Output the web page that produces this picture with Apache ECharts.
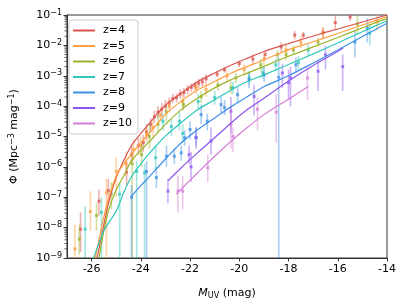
<!DOCTYPE html>
<html><head><meta charset="utf-8">
<script src="https://cdn.jsdelivr.net/npm/echarts@6/dist/echarts.min.js"></script>
<style>html,body{margin:0;padding:0;background:#fff}#c{width:407px;height:305px}</style>
</head><body><div id="c"></div>
<script>
// ---- data (log10 Phi) ----
const redshifts = ['z=4','z=5','z=6','z=7','z=8','z=9','z=10'];
const colors = ['#d9534f','#ff9f40','#9ab52a','#2ec8b8','#3d8fe6','#8b55ee','#d47fd8'];
const xTicks = [-26,-24,-22,-20,-18,-16,-14];
const yTicks = [-9,-8,-7,-6,-5,-4,-3,-2,-1];

// model curves [M_UV, log10 Phi]
const curveZ4 = [[-25.78,-9],[-25.6,-8.3],[-25.4,-7.5],[-25.2,-6.85],[-25,-6.35],[-24.7,-5.8],[-24.4,-5.32],[-24,-4.9],[-23.7,-4.61],[-23.35,-4.27],[-23,-3.97],[-22.4,-3.6],[-21.7,-3.2],[-21,-2.91],[-20.3,-2.64],[-19.7,-2.43],[-19,-2.2],[-18,-1.94],[-17,-1.69],[-16,-1.46],[-15,-1.23],[-14,-1.0]];
const curveZ5 = [[-25.85,-9],[-25.6,-8.0],[-25.4,-7.3],[-25.2,-6.75],[-25,-6.3],[-24.7,-5.9],[-24.4,-5.6],[-24,-5.2],[-23.7,-4.93],[-23.35,-4.6],[-23,-4.27],[-22.4,-3.86],[-21.7,-3.47],[-21,-3.19],[-20.3,-2.9],[-19.7,-2.7],[-19,-2.48],[-18,-2.14],[-17,-1.88],[-16,-1.61],[-15,-1.33],[-14,-1.05]];
const curveZ6 = [[-25.7,-9],[-25.5,-8.1],[-25.3,-7.4],[-25,-6.75],[-24.7,-6.3],[-24.4,-5.82],[-24,-5.45],[-23.7,-5.21],[-23.35,-4.9],[-23,-4.6],[-22.4,-4.14],[-21.7,-3.74],[-21,-3.4],[-20.3,-3.12],[-19.7,-2.92],[-19,-2.69],[-18,-2.36],[-17,-2.05],[-16,-1.74],[-15,-1.42],[-14,-1.11]];
const curveZ7 = [[-25.92,-9],[-25.5,-8.1],[-25,-7.45],[-24.7,-6.85],[-24.4,-6.35],[-24,-5.9],[-23.7,-5.6],[-23.35,-5.28],[-23,-4.98],[-22.4,-4.57],[-21.7,-4.12],[-21,-3.79],[-20.3,-3.45],[-19.7,-3.2],[-19,-2.97],[-18,-2.63],[-17,-2.28],[-16,-1.92],[-15,-1.55],[-14,-1.19]];
const curveZ8 = [[-24.38,-6.96],[-24,-6.62],[-23.7,-6.36],[-23.35,-6.05],[-23,-5.74],[-22.4,-5.24],[-21.7,-4.78],[-21,-4.39],[-20.3,-4.0],[-19.7,-3.7],[-19,-3.36],[-18,-3.0],[-17,-2.58],[-16,-2.15],[-15,-1.71],[-14,-1.27]];
const curveZ9 = [[-22.9,-6.46],[-22.4,-6.06],[-21.7,-5.54],[-21,-5.04],[-20.3,-4.53],[-19.7,-4.13],[-19,-3.74],[-18,-3.17],[-17,-2.66],[-16,-2.2],[-15.78,-2.09]];
const curveZ10 = [[-22.56,-6.9],[-22.1,-6.52],[-21.7,-6.2],[-21,-5.65],[-20.3,-5.13],[-19.7,-4.72],[-19,-4.28],[-18,-3.77],[-17.2,-3.35]];

// observations [M_UV, log10 Phi, lower, upper]
const obsZ4 = [[-26.45,-8.05,-8.8,-7.5],[-25.7,-7.13,-7.6,-6.75],[-25.32,-6.78,-7.2,-6.4],[-24.58,-6.18,-6.6,-5.8],[-24.38,-5.59,-5.9,-5.3],[-24.1,-5.3,-5.6,-5.05],[-23.9,-5.2,-5.5,-4.95],[-23.77,-4.85,-5.1,-4.6],[-23.6,-4.6,-4.85,-4.4],[-23.45,-4.35,-4.55,-4.15],[-23.3,-4.2,-4.4,-4.0],[-23.15,-4.1,-4.3,-3.9],[-23.0,-4.0,-4.2,-3.8],[-22.85,-3.9,-4.05,-3.72],[-22.7,-3.75,-3.9,-3.6],[-22.55,-3.72,-3.88,-3.58],[-22.4,-3.6,-3.75,-3.45],[-22.25,-3.55,-3.7,-3.4],[-22.1,-3.45,-3.6,-3.3],[-21.95,-3.38,-3.52,-3.25],[-21.8,-3.33,-3.48,-3.2],[-21.65,-3.25,-3.4,-3.1],[-21.5,-3.2,-3.35,-3.05],[-21.35,-3.1,-3.25,-2.95],[-20.9,-2.95,-3.05,-2.85],[-20.6,-2.8,-2.9,-2.7],[-20.0,-2.6,-2.72,-2.5],[-19.45,-2.45,-2.6,-2.3],[-18.95,-2.3,-2.42,-2.18],[-18.3,-2.05,-2.2,-1.9],[-17.75,-1.66,-1.8,-1.52],[-17.4,-1.66,-1.78,-1.55],[-16.6,-1.57,-1.75,-1.4],[-16.1,-1.25,-1.5,-0.9],[-15.5,-1.07,-1.2,-0.95]];
const obsZ5 = [[-26.68,-8.7,-9.5,-7.9],[-26.05,-7.47,-8.1,-6.8],[-25.4,-6.85,-9.5,-6.4],[-25.0,-6.15,-7.0,-5.7],[-24.6,-5.9,-6.3,-5.5],[-24.3,-5.43,-5.8,-5.1],[-24.0,-5.3,-5.6,-5.0],[-23.77,-4.93,-5.2,-4.7],[-23.5,-4.7,-5.0,-4.45],[-23.2,-4.3,-4.5,-4.1],[-22.84,-4.0,-4.2,-3.8],[-22.3,-3.85,-4.1,-3.6],[-21.75,-3.39,-3.6,-3.2],[-21.35,-3.46,-3.7,-3.25],[-20.5,-3.0,-3.2,-2.85],[-19.8,-2.8,-3.0,-2.6],[-19.0,-2.45,-2.65,-2.3],[-18.1,-2.15,-2.3,-1.95],[-17.5,-1.9,-2.1,-1.7],[-16.6,-1.6,-1.8,-1.4],[-14.4,-1.23,-1.5,-1.0]];
const obsZ6 = [[-26.5,-8.38,-8.9,-7.9],[-25.8,-7.6,-8.1,-7.2],[-25.2,-6.9,-7.4,-6.5],[-24.35,-5.9,-9.5,-5.5],[-23.97,-5.6,-6.0,-5.25],[-23.65,-5.0,-5.4,-4.6],[-23.3,-4.6,-4.9,-4.3],[-22.96,-4.2,-4.5,-3.95],[-22.27,-3.95,-4.15,-3.75],[-21.55,-3.69,-3.9,-3.5],[-20.87,-3.3,-3.5,-3.1],[-20.34,-3.4,-3.6,-3.2],[-20.14,-3.07,-3.25,-2.9],[-19.13,-2.64,-2.85,-2.45],[-18.45,-2.31,-2.5,-2.15],[-18.1,-2.31,-2.5,-2.15],[-17.8,-2.15,-2.3,-2.0],[-16.8,-1.89,-2.05,-1.75],[-15.2,-1.3,-1.65,-0.9]];
const obsZ7 = [[-26.26,-8.05,-9.5,-7.3],[-25.6,-7.5,-9.5,-7.0],[-24.86,-6.9,-9.5,-6.5],[-24.17,-6.15,-9.5,-5.8],[-23.85,-6.2,-9.5,-5.9],[-23.4,-5.7,-6.1,-5.3],[-23.1,-4.5,-4.8,-4.25],[-22.76,-4.67,-5.0,-4.4],[-22.43,-4.5,-4.8,-4.2],[-22.3,-4.9,-5.2,-4.6],[-21.67,-3.85,-4.1,-3.6],[-21.0,-3.72,-3.95,-3.5],[-20.26,-3.39,-3.6,-3.2],[-19.6,-3.07,-3.3,-2.85],[-19.05,-2.9,-3.1,-2.7],[-18.52,-2.64,-2.85,-2.45],[-17.6,-2.57,-2.8,-2.35],[-17.2,-2.15,-2.35,-1.95],[-14.7,-1.6,-2.0,-1.3]];
const obsZ8 = [[-24.38,-7.0,-9.5,-6.6],[-23.77,-6.15,-9.5,-5.8],[-23.37,-6.35,-6.7,-6.0],[-22.96,-5.65,-6.0,-5.3],[-22.64,-5.65,-5.9,-5.4],[-22.36,-5.54,-5.8,-5.3],[-22.22,-5.04,-5.3,-4.8],[-22.0,-4.77,-5.1,-4.5],[-21.75,-5.04,-5.3,-4.7],[-21.55,-4.28,-4.6,-3.95],[-21.3,-4.5,-4.8,-4.25],[-20.74,-3.95,-4.2,-3.7],[-20.6,-4.05,-4.3,-3.8],[-20.07,-3.62,-3.9,-3.35],[-19.6,-3.13,-3.4,-2.9],[-18.99,-2.97,-3.2,-2.7],[-18.4,-3.05,-9.5,-2.4],[-17.7,-2.64,-2.9,-2.4],[-15.3,-1.89,-2.4,-1.5],[-14.8,-1.43,-1.9,-1.1]];
const obsZ9 = [[-22.9,-6.8,-7.2,-6.4],[-22.04,-5.6,-5.9,-5.3],[-21.96,-6.0,-6.5,-5.5],[-21.76,-5.03,-5.4,-4.7],[-21.15,-5.15,-5.6,-4.7],[-20.34,-4.17,-4.9,-3.7],[-19.4,-3.68,-4.3,-3.3],[-18.25,-2.91,-3.4,-2.6],[-18.0,-3.23,-3.8,-2.8],[-17.92,-3.07,-4.0,-2.7],[-16.8,-2.85,-3.5,-2.5],[-16.5,-2.31,-2.8,-2.0],[-15.8,-2.7,-3.5,-2.3]];
const obsZ10 = [[-22.49,-6.79,-7.5,-6.3],[-22.3,-6.8,-7.4,-6.3],[-21.28,-6.03,-6.5,-5.6],[-20.34,-4.6,-5.4,-4.0],[-20.26,-5.0,-5.5,-4.7],[-19.26,-4.1,-4.8,-3.7],[-18.5,-4.2,-5.2,-3.6],[-17.23,-3.07,-3.8,-2.7]];

const curves = [curveZ4,curveZ5,curveZ6,curveZ7,curveZ8,curveZ9,curveZ10];
const obs = [obsZ4,obsZ5,obsZ6,obsZ7,obsZ8,obsZ9,obsZ10];

// minor tick positions (log10 of k*10^n)
const minorTicks = [];
for (let n = -9; n < -1; n++) for (let k = 2; k <= 9; k++) minorTicks.push([n + Math.log10(k)]);

const FONT = 'DejaVu Sans';
const series = [];
obs.forEach((d, i) => {
  series.push({
    type: 'custom', name: 'err' + i, data: d, clip: true, silent: true,
    encode: {x: 0, y: [1, 2, 3]},
    renderItem: (params, api) => {
      const x = api.value(0);
      const p = api.coord([x, api.value(1)]);
      const lo = api.coord([x, api.value(2)]);
      const hi = api.coord([x, api.value(3)]);
      return {type: 'group', children: [
        {type: 'line', shape: {x1: p[0], y1: lo[1], x2: p[0], y2: hi[1]}, style: {stroke: colors[i], lineWidth: 1.6, opacity: 0.45}},
        {type: 'rect', shape: {x: p[0] - 1.5, y: p[1] - 1.5, width: 3, height: 3}, style: {fill: colors[i], opacity: 0.75}}
      ]};
    }
  });
});
curves.forEach((d, i) => {
  series.push({
    type: 'line', name: redshifts[i], data: d, showSymbol: false, symbol: 'none',
    smooth: 0.25, clip: true, silent: true,
    lineStyle: {color: colors[i], width: 1.2}, itemStyle: {color: colors[i]}, z: 3
  });
});
series.push({
  type: 'custom', name: 'minor', data: minorTicks, clip: false, silent: true,
  encode: {y: 0},
  renderItem: (params, api) => {
    const p = api.coord([-27, api.value(0)]);
    return {type: 'line', shape: {x1: p[0] - 2.5, y1: p[1], x2: p[0], y2: p[1]}, style: {stroke: '#333', lineWidth: 0.8}};
  }
});

const chart = echarts.init(document.getElementById('c'), null, {renderer: 'canvas'});
chart.setOption({
  animation: false,
  backgroundColor: '#fff',
  textStyle: {fontFamily: FONT},
  grid: {left: 65, right: 20, top: 15, bottom: 46, show: true, borderColor: '#333', borderWidth: 1},
  legend: {
    data: redshifts, orient: 'vertical', left: 69, top: 20,
    itemWidth: 22, itemHeight: 2, icon: 'rect', itemGap: 4.5,
    backgroundColor: 'rgba(255,255,255,0.85)', borderColor: '#ccc', borderWidth: 1, borderRadius: 3,
    padding: [5, 6, 5, 4],
    textStyle: {fontFamily: FONT, fontSize: 11, color: '#000', padding: [0, 0, 0, 3]}
  },
  xAxis: {
    type: 'value', min: -27, max: -14, splitNumber: 6, minInterval: 2, maxInterval: 2,
    axisLine: {show: true, lineStyle: {color: '#333'}},
    axisTick: {show: true, length: 3.5, lineStyle: {color: '#333'}},
    axisLabel: {fontFamily: FONT, fontSize: 11, color: '#000', margin: 6, showMinLabel: false,
      formatter: v => (xTicks.indexOf(v) >= 0 ? String(v) : '')},
    splitLine: {show: false},
    name: '{i|M}{s|UV}{a| (mag)}', nameLocation: 'middle', nameGap: 29,
    nameTextStyle: {rich: {
      i: {fontFamily: FONT, fontSize: 11, fontStyle: 'italic', color: '#000'},
      s: {fontFamily: FONT, fontSize: 8, color: '#000', verticalAlign: 'bottom', padding: [5, 0, 0, 0]},
      a: {fontFamily: FONT, fontSize: 11, color: '#000'}
    }}
  },
  yAxis: {
    type: 'value', min: -9, max: -1, interval: 1,
    axisLine: {show: true, lineStyle: {color: '#333'}},
    axisTick: {show: true, length: 3.5, lineStyle: {color: '#333'}},
    axisLabel: {margin: 5, formatter: v => '{b|10}{s|' + (v < 0 ? '\u2212' : '') + Math.abs(v) + '}',
      rich: {
        b: {fontFamily: FONT, fontSize: 11, color: '#000'},
        s: {fontFamily: FONT, fontSize: 8, color: '#000', verticalAlign: 'top', padding: [0, 0, 5, 0]}
      }},
    splitLine: {show: false},
    name: '{a|\u03A6 (Mpc}{s|\u22123}{a| mag}{s|\u22121}{a|)}', nameLocation: 'middle', nameGap: 46, nameRotate: 90,
    nameTextStyle: {rich: {
      a: {fontFamily: FONT, fontSize: 11, color: '#000'},
      s: {fontFamily: FONT, fontSize: 8, color: '#000', verticalAlign: 'top', padding: [0, 0, 5, 0]}
    }}
  },
  series: series
});
</script></body></html>
